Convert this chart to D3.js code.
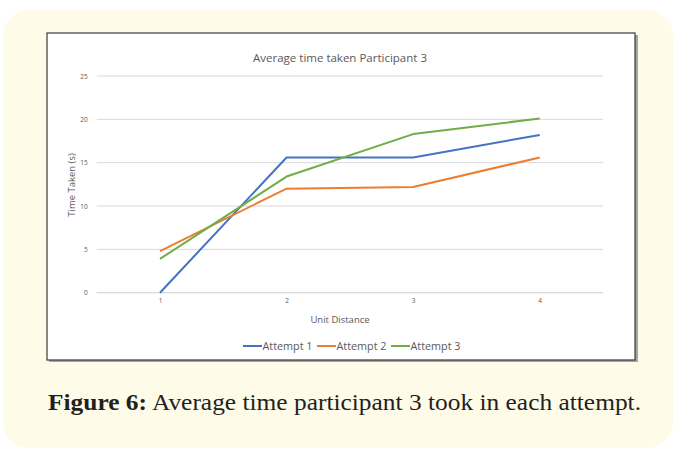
<!DOCTYPE html>
<html><head><meta charset="utf-8">
<script src="https://cdn.jsdelivr.net/npm/d3@7"></script>
<style>html,body{margin:0;padding:0;background:#fff;}</style>
</head><body>
<svg id="c" width="674" height="449"></svg>
<script>
const categories = ["1","2","3","4"];
const attempt1 = [0, 15.6, 15.6, 18.2];
const attempt2 = [4.8, 12.0, 12.2, 15.6];
const attempt3 = [3.9, 13.4, 18.3, 20.1];
const seriesNames = ["Attempt 1","Attempt 2","Attempt 3"];
const seriesColors = ["#4472c4","#ed7d31","#70ad47"];
const yTicks = [0,5,10,15,20,25];

const svg = d3.select("#c");
// cream panel
svg.append("rect").attr("x",3).attr("y",10).attr("width",670).attr("height",438)
  .attr("rx",26).attr("fill","#fefbe8");
// chart box shadow + box
svg.append("rect").attr("x",49).attr("y",35).attr("width",589).attr("height",327).attr("fill","#6b6b6b").attr("opacity",0.6);
svg.append("rect").attr("x",47).attr("y",33).attr("width",588).attr("height",327)
  .attr("fill","#fff").attr("stroke","#3a3a3a").attr("stroke-width",1.2);

const x = d3.scalePoint().domain(categories).range([96.7,603]).padding(0.5);
const y = d3.scaleLinear().domain([0,25]).range([292.7,76]);

// gridlines
const grid = svg.append("g");
grid.selectAll("line").data(yTicks).join("line")
  .attr("x1",96.7).attr("x2",603).attr("y1",d=>y(d)).attr("y2",d=>y(d))
  .attr("stroke","#d9d9d9").attr("stroke-width",1);

// y axis labels
const ya = svg.append("g").attr("transform","translate(96.7,0)")
  .call(d3.axisLeft(y).tickValues(yTicks).tickSize(0).tickPadding(9));
ya.select(".domain").remove();
ya.selectAll("text").attr("font-family","Open Sans, sans-serif").attr("font-size",6.5).attr("fill","#595959");

// x axis
const xa = svg.append("g").attr("transform","translate(0,292.7)")
  .call(d3.axisBottom(x).tickSize(0).tickPadding(6));
xa.select(".domain").attr("stroke","#d9d9d9").attr("d","M96.7,0H603");
xa.selectAll("text").attr("font-family","Open Sans, sans-serif").attr("font-size",6.5).attr("fill","#595959");

// lines
const allSeries = [attempt1, attempt2, attempt3];
const line = d3.line().x((d,i)=>x(categories[i])).y(d=>y(d));
svg.append("g").selectAll("path").data(allSeries).join("path")
  .attr("d",line).attr("fill","none")
  .attr("stroke",(d,i)=>seriesColors[i]).attr("stroke-width",2).attr("stroke-linejoin","round");

// title
svg.append("text").attr("x",340).attr("y",62).attr("text-anchor","middle")
  .attr("font-family","Open Sans, sans-serif").attr("font-size",11.5).attr("fill","#595959")
  .text("Average time taken Participant 3");
// axis titles
svg.append("text").attr("x",340).attr("y",323).attr("text-anchor","middle")
  .attr("font-family","Open Sans, sans-serif").attr("font-size",9.5).attr("fill","#595959")
  .text("Unit Distance");
svg.append("text").attr("transform","translate(75,185) rotate(-90)").attr("text-anchor","middle")
  .attr("font-family","Open Sans, sans-serif").attr("font-size",9.5).attr("fill","#595959")
  .text("Time Taken (s)");

// legend
const legX = [243, 317, 391];
const leg = svg.append("g");
seriesNames.forEach((n,i)=>{
  leg.append("line").attr("x1",legX[i]).attr("x2",legX[i]+19).attr("y1",346).attr("y2",346)
    .attr("stroke",seriesColors[i]).attr("stroke-width",2);
  leg.append("text").attr("x",legX[i]+19.5).attr("y",349.5)
    .attr("font-family","Open Sans, sans-serif").attr("font-size",10.5).attr("fill","#595959")
    .attr("textLength",50).attr("lengthAdjust","spacingAndGlyphs")
    .text(n);
});

// caption
const cap = svg.append("text").attr("x",48).attr("y",410)
  .attr("font-family","Liberation Serif, serif").attr("font-size",23).attr("fill","#231f20")
  .attr("textLength",593).attr("lengthAdjust","spacingAndGlyphs");
cap.append("tspan").attr("font-weight","bold").text("Figure 6:");
cap.append("tspan").text(" Average time participant 3 took in each attempt.");
</script>
</body></html>
